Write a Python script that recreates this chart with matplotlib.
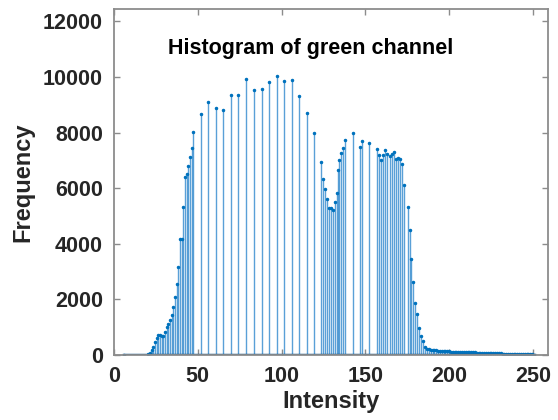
import numpy as np
import matplotlib.pyplot as plt

plt.rcParams['font.family'] = ['Liberation Sans', 'DejaVu Sans']
plt.rcParams['font.weight'] = 'bold'
plt.rcParams['axes.labelweight'] = 'bold'

# rising edge (dense bins)
left_x = [6.0, 20.4, 21.4, 22.4, 23.4, 24.4, 25.4, 26.4, 27.4, 28.4, 29.4, 30.4, 31.4,
          32.4, 33.4, 34.4, 35.4, 36.4, 37.4, 38.4, 39.5, 40.3, 41.3, 42.3, 43.3,
          44.3, 45.3, 46.3, 47.3]
left_y = [0, 30, 85, 180, 300, 480, 600, 720, 720, 680, 680, 840, 1020,
          1100, 1260, 1440, 1710, 2090, 2570, 3150, 4190, 4190, 5320, 6400, 6520,
          6790, 7120, 7460, 8020]

# sparse bins in the middle
mid_x = [52.2, 56.2, 60.7, 65.3, 70.0, 74.2, 79.0, 83.5, 88.3, 92.7, 97.2,
         101.4, 106.1, 110.7, 115.0, 119.2]
mid_y = [8680, 9120, 8880, 8800, 9340, 9370, 9935, 9550, 9575, 9810, 10050,
         9850, 9900, 9310, 8700, 7980]

# second group
dip_x = [123.7, 124.6, 125.7, 126.9, 128.1, 129.3, 130.5, 131.7, 132.8, 133.6,
         134.5, 135.6, 136.8, 138.0, 142.4, 146.8, 147.8, 152.3]
dip_y = [6940, 6340, 5980, 5620, 5300, 5300, 5200, 5500, 5840, 6640,
         7000, 7260, 7460, 7740, 7980, 7500, 7700, 7620]

# plateau and falling edge
right_x = [157.0, 158.2, 159.5, 160.8, 162.0, 163.2, 164.5, 165.7, 166.9, 168.2,
           169.4, 170.6, 171.8, 173.2, 175.2, 176.4, 177.2, 178.2, 179.5, 180.8,
           182.0, 183.2, 184.3, 185.4, 186.6]
right_y = [7420, 7180, 7020, 7180, 7360, 7250, 7150, 7240, 7300, 7060,
           7100, 7070, 6860, 6130, 5330, 4490, 3440, 2630, 1880, 1470,
           960, 680, 500, 300, 215]

# long low tail
tail_x = [187.8, 189.0, 190.1, 191.2, 192.3, 193.4, 194.5, 195.6, 196.7, 197.8,
          198.9, 200.0, 201.1, 202.2, 203.3, 204.4, 205.5, 206.6, 207.7, 208.8,
          209.9, 211.0, 212.1, 213.2, 214.3, 215.4, 216.5, 217.6, 218.7, 219.8,
          220.9, 222.0, 223.1, 224.2, 225.3, 226.4, 227.5, 228.6, 229.7, 230.8,
          231.9, 233.0, 234.1, 235.2, 236.3, 237.4, 238.5, 239.6, 240.7, 241.8,
          242.9, 244.0, 245.1, 246.2, 247.3, 248.4, 249.5, 250.6]
tail_y = [200, 190, 180, 170, 165, 160, 150, 145, 140, 135,
          130, 128, 125, 120, 118, 115, 112, 110, 108, 105,
          102, 100, 98, 95, 92, 90, 88, 85, 82, 80,
          78, 75, 72, 70, 68, 65, 62, 60, 58, 55,
          52, 50, 48, 45, 42, 40, 38, 36, 34, 32,
          30, 28, 26, 24, 22, 20, 18, 16]

x = np.array(left_x + mid_x + dip_x + right_x + tail_x)
y = np.array(left_y + mid_y + dip_y + right_y + tail_y)

fig = plt.figure(figsize=(5.58, 4.2), dpi=100)
ax = fig.add_axes([0.2043, 0.1548, 0.7777, 0.8238])

blue = '#0072BD'
markers, stems, base = ax.stem(x, y, linefmt='-', markerfmt='.', basefmt='-')
stems.set_color('#3d8fd0')
stems.set_linewidth(1.0)
stems.set_alpha(0.85)
markers.set_color(blue)
markers.set_markersize(3)
base.set_color('#1a5a8f')
base.set_linewidth(2.5)

ax.set_xlim(0, 259)
ax.set_ylim(0, 12450)
ax.set_xticks([0, 50, 100, 150, 200, 250])
ax.set_yticks([0, 2000, 4000, 6000, 8000, 10000, 12000])

for s in ax.spines.values():
    s.set_color('#8c8c8c')
    s.set_linewidth(1.3)
ax.tick_params(direction='in', top=True, right=True, length=4, width=1,
               color='#8c8c8c', labelsize=15.5, labelcolor='#262626', pad=8)

ax.set_xlabel('Intensity', fontsize=17, color='#262626', labelpad=2)
ax.set_ylabel('Frequency', fontsize=17, color='#262626', labelpad=6)

ax.text(0.454, 0.887, 'Histogram of green channel', transform=ax.transAxes,
        ha='center', va='center', fontsize=15.5, color='black')

fig.savefig('out.png', dpi=100)
